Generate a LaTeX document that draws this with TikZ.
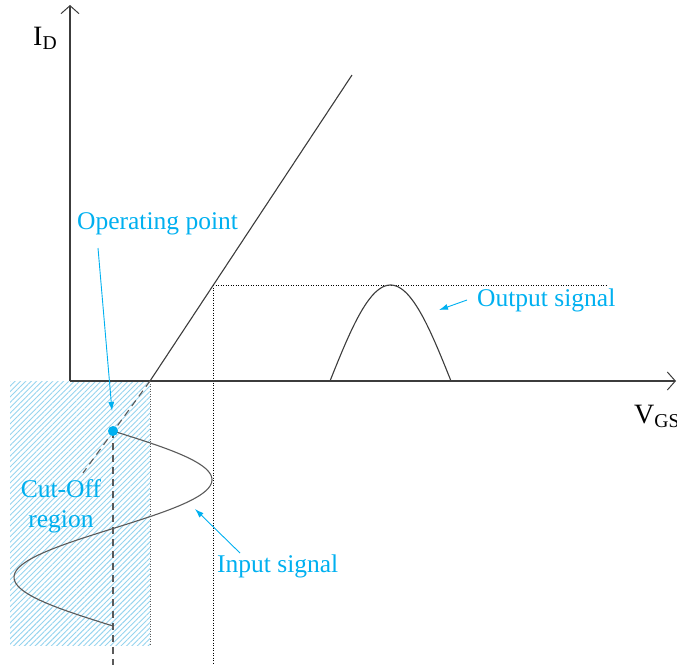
\documentclass[tikz,border=0pt]{standalone}
\usepackage{fontspec}
\setmainfont{Liberation Serif}
\usetikzlibrary{arrows.meta,patterns.meta}
\definecolor{lblue}{RGB}{0,176,240}
\definecolor{hblue}{RGB}{150,212,238}
\definecolor{axgray}{RGB}{60,60,60}
\definecolor{dgray}{RGB}{90,90,90}
\begin{document}
\begin{tikzpicture}[x=1pt,y=-1pt,
  axis/.style={draw=axgray, line width=1.1pt, -{Straight Barb[length=8pt,width=18pt,line width=1pt]}},
  curve/.style={draw=axgray, line width=1.1pt},
  dotline/.style={draw=black, line width=0.8pt, dash pattern=on 1pt off 1.5pt},
  graydot/.style={draw=dgray, line width=0.9pt, dash pattern=on 1pt off 1.5pt},
  dashline/.style={draw=dgray, line width=1.1pt, dash pattern=on 7pt off 5pt},
  barrow/.style={draw=lblue, line width=0.9pt, -{Latex[length=9pt,width=6pt]}},
  axlabel/.style={inner sep=0pt, font=\fontsize{28}{32}\selectfont, text=black},
  bluelabel/.style={inner sep=0pt, font=\fontsize{25.5}{30}\selectfont, text=lblue}
]
\useasboundingbox (0,0) rectangle (677,665);
% cut-off hatched region
\fill[pattern={Lines[angle=45,distance=3.8pt,line width=0.9pt]}, pattern color=hblue] (10,381) rectangle (150,645);
% coordinates
\coordinate (O) at (70,381);
\coordinate (ytip) at (70,5);
\coordinate (xtip) at (676,381);
\coordinate (knee) at (150,381);
\coordinate (ltop) at (352,75);
\coordinate (q) at (113,431);
\coordinate (dl) at (83,473);
\coordinate (qbot) at (113,665);
\coordinate (vp) at (213,285);
\coordinate (vbot) at (213,663);
\coordinate (hend) at (606,285);
\coordinate (rtop) at (150,381);
\coordinate (rbot) at (150,645);
% dotted guides
\draw[graydot] (rtop) -- (rbot);
\draw[dotline] (vp) -- (vbot);
\draw[dotline] (vp) -- (hend);
% axes
\draw[axis] (O) -- (ytip);
\draw[axis] (O) -- (xtip);
% transfer characteristic
\draw[curve] (knee) -- (ltop);
\draw[dashline] (knee) -- (dl);
\draw[dashline] (q) -- (qbot);
% output signal
\draw[curve] plot[domain=0:1,samples=60] ({330+121*\x},{381-96*sin(180*\x)});
% input signal
\draw[curve, draw=dgray] plot[domain=0:1,samples=100] ({113+99*sin(360*\x)},{431+195*\x});
% operating point
\fill[lblue] (q) circle (5pt);
% labels
\node[axlabel, anchor=base west] (id) at (33,45) {I\textsubscript{D}};
\node[axlabel, anchor=base west] (vgs) at (634,423) {V\textsubscript{GS}};
\node[bluelabel, anchor=base west] (op) at (77,229) {Operating point};
\node[bluelabel, anchor=base west] (outl) at (477,306) {Output signal};
\node[bluelabel, anchor=base west] (inl) at (217,572) {Input signal};
\node[bluelabel, anchor=base] (cut1) at (61,497) {Cut-Off};
\node[bluelabel, anchor=base] (cut2) at (61,527) {region};
% label arrows
\coordinate (opt) at (98,248);
\coordinate (oph) at (112,411);
\coordinate (outt) at (467,300);
\coordinate (outh) at (439,310);
\coordinate (int) at (240,553);
\coordinate (inh) at (195,509);
\draw[barrow] (opt) -- (oph);
\draw[barrow] (outt) -- (outh);
\draw[barrow] (int) -- (inh);
\end{tikzpicture}
\end{document}
